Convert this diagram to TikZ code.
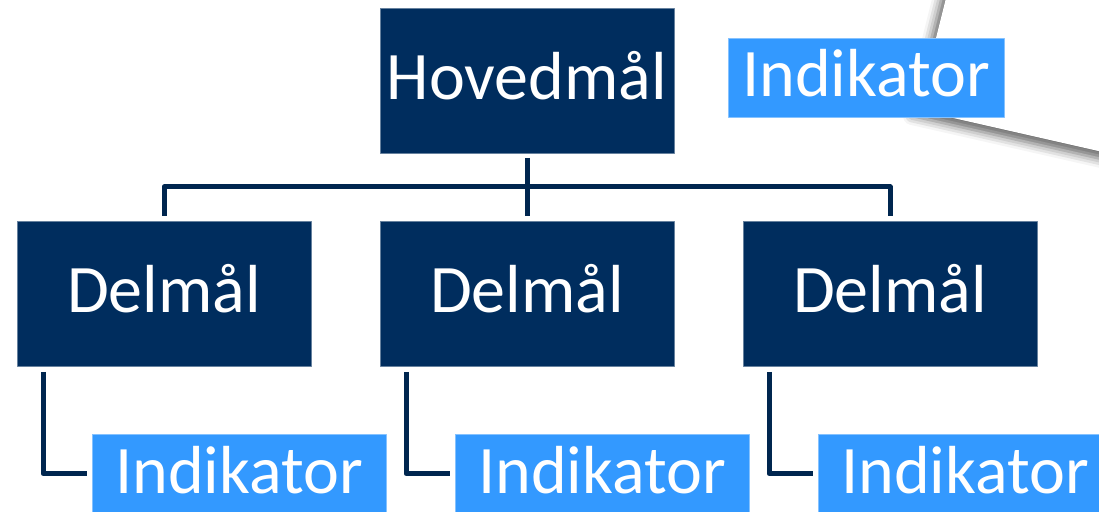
\documentclass[tikz,border=0pt]{standalone}
\usepackage{fontspec}
\setmainfont{Carlito}
\usepackage{xcolor}
\usetikzlibrary{positioning,shadows.blur}

\definecolor{navy}{HTML}{002D5E}
\definecolor{wire}{HTML}{00264F}
\definecolor{skyblue}{HTML}{3399FF}

\begin{document}
\begin{tikzpicture}[x=1pt,y=1pt,line join=round,
            wire/.style={draw=wire,line width=5pt},
            goal/.style={fill=navy,draw=navy!60!white,line width=0.8pt,outer sep=0pt,
                inner sep=0pt,minimum width=294pt,minimum height=145pt,text=white,
                font=\fontsize{68}{80}\selectfont,text height=50pt,text depth=11pt},
            indicator/.style={goal,fill=skyblue,draw=skyblue!60!white,minimum height=79pt}]
        \useasboundingbox (0,0) rectangle (1099,511);

        % sheet behind the top indicator
        \fill[white,blur shadow={shadow xshift=-6pt,shadow yshift=-6pt,
                shadow blur radius=9pt,shadow opacity=60}]
            (918,401) -- (950.5,531) -- (1160,531) -- (1160,346) -- cycle;

        \node[goal] (H) at (527,430.5) {Hovedmål};
        \node[goal] (D2) [below=68pt of H] {Delmål};
        \node[goal] (D1) [left=69pt of D2] {Delmål};
        \node[goal] (D3) [right=69pt of D2] {Delmål};

        \node[indicator,minimum width=276pt] (IH) [right=54pt of H,yshift=3pt] {Indikator};
        \node[indicator,anchor=north west] (I1) at ([xshift=75pt,yshift=-68pt]D1.south west) {Indikator};
        \node[indicator,anchor=north west] (I2) at ([xshift=75pt,yshift=-68pt]D2.south west) {Indikator};
        \node[indicator,anchor=north west] (I3) at ([xshift=75pt,yshift=-68pt]D3.south west) {Indikator};

        \draw[wire] ([yshift=-5pt]H.south) -- ([yshift=5pt]D2.north);
        \draw[wire] ([yshift=5pt]D1.north) -- ++(0,29) -| ([yshift=5pt]D3.north);

        \draw[wire] ([xshift=26pt,yshift=-6pt]D1.south west) |- ([xshift=-5pt]I1.west);
        \draw[wire] ([xshift=26pt,yshift=-6pt]D2.south west) |- ([xshift=-5pt]I2.west);
        \draw[wire] ([xshift=26pt,yshift=-6pt]D3.south west) |- ([xshift=-5pt]I3.west);
    \end{tikzpicture}
\end{document}
